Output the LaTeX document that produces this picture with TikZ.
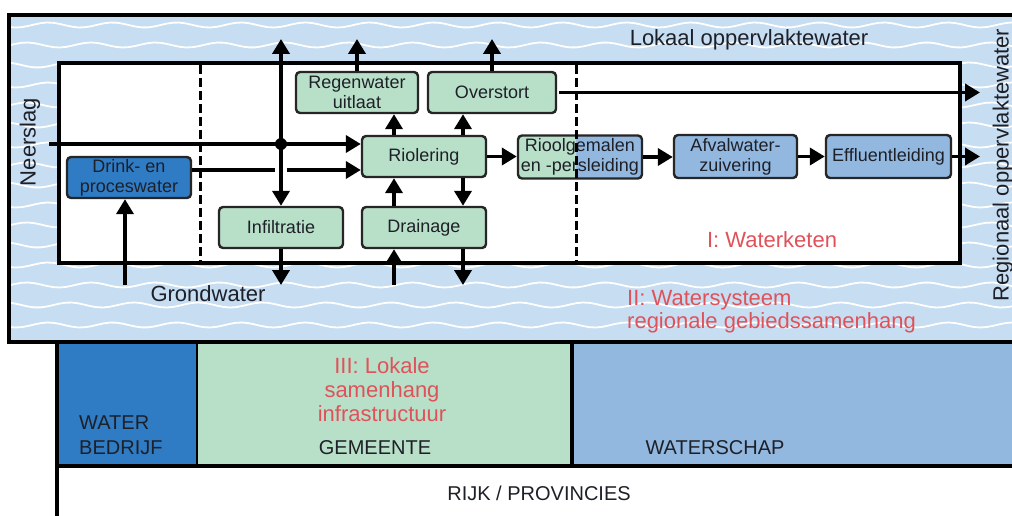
\documentclass[tikz,border=0pt]{standalone}
\usepackage{fontspec}
\setmainfont{Liberation Sans}
\usepackage{xcolor}
\usepackage{tikz}
\usetikzlibrary{arrows.meta}

\definecolor{waterblauw}{RGB}{198,221,242}
\definecolor{groen}{RGB}{184,223,200}
\definecolor{donkerblauw}{RGB}{47,123,196}
\definecolor{middenblauw}{RGB}{147,184,224}
\definecolor{rood}{RGB}{224,82,90}
\definecolor{tekst}{RGB}{30,32,40}

\begin{document}
\begin{tikzpicture}[x=1pt, y=-1pt,
    blok/.style = {draw=black!85, line width=2.4pt, rounded corners=4pt, minimum width=124pt, minimum height=41pt, inner sep=1pt, align=center, text=tekst, font=\fontsize{18}{20}\selectfont},
    pijl/.style = {line width=3.8pt, -{Triangle[length=15pt,width=17pt]}},
    tekstlabel/.style = {text=tekst, font=\fontsize{22}{24}\selectfont, inner sep=0pt},
    roodlabel/.style = {text=rood, font=\fontsize{22}{24}\selectfont, inner sep=0pt},
    bandlabel/.style = {text=tekst, font=\fontsize{20}{25}\selectfont, inner sep=0pt},
    golf/.style = {white, line width=1.8pt}]
            \useasboundingbox (0,0) rectangle (1012,516);
            \def\wl{5.6} \def\amp{2.5}

            \fill[waterblauw] (9,15) rectangle (1020,342);
            \begin{scope}
                \clip (9,15) rectangle (1012,342);
                \foreach \r in {0,...,15}
                    \draw[golf] plot[domain=9:1012, samples=160] (\x, {25 + 20*\r + \amp*sin(\x*\wl + \r*120)});
            \end{scope}
            \draw[line width=3.5pt] (9,15) rectangle (1020,342);
            \draw[fill=white, line width=4pt] (59,63) rectangle (960,263);

            \fill[donkerblauw] (57,344) rectangle (197,466);
            \fill[groen] (197,344) rectangle (572,466);
            \fill[middenblauw] (572,344) rectangle (1012,466);
            \draw[line width=2.5pt] (197,344) -- (197,466);
            \draw[line width=3.5pt] (572,344) -- (572,466);
            \draw[line width=3.5pt] (57,466) -- (1012,466);
            \draw[line width=3.5pt] (57,344) -- (57,516);

            \node[blok, fill=donkerblauw] (drink) at (129,177.5) {Drink- en\\proceswater};
            \node[blok, fill=groen, minimum width=122pt] (regen) at (357,92.5) {Regenwater\\uitlaat};
            \node[blok, fill=groen, minimum width=128pt] (overstort) at (492,92.5) {Overstort};
            \node[blok, fill=groen] (riool) at (424,156.5) {Riolering};
            \node[blok, fill=groen] (infil) at (281,227.5) {Infiltratie};
            \node[blok, fill=groen] (drain) at (424,227.5) {Drainage};
            \node[blok, fill=middenblauw, minimum height=43pt, path picture={\fill[groen] (path picture bounding box.south west) rectangle ([xshift=-4pt]path picture bounding box.north);}] (gemaal) at (580,157) {Rioolgemalen\\en -persleiding};
            \node[blok, fill=middenblauw, minimum height=43pt, minimum width=123pt] (afval) at (735.5,156.5) {Afvalwater-\\zuivering};
            \node[blok, fill=middenblauw, minimum height=43pt, minimum width=125pt] (effluent) at (888.5,156.5) {Effluentleiding};

            \coordinate (boven) at (0,39);
            \coordinate (onder) at (0,285);
            \coordinate (rechts) at (980,0);
            \coordinate (regenval) at (49,144);
            \coordinate (splits) at (infil.north |- regenval);
            \coordinate (d0) at ([yshift=7.5pt]drink.east);
            \coordinate (kruis) at (d0 -| infil.north);
            \coordinate (r1) at ([xshift=-30pt]riool.north);
            \coordinate (r2) at ([xshift=39pt]riool.north);
            \coordinate (g1) at ([xshift=-4pt]drink.south);

            \draw[pijl] (regenval) -- (regenval -| riool.west);
            \draw[pijl] (splits) -- (splits |- boven);
            \draw[pijl] (splits) -- (infil.north);
            \fill (splits) circle (6pt);
            \draw[line width=3.8pt] (d0) -- ([xshift=-6pt]kruis);
            \draw[pijl] ([xshift=6pt]kruis) -- (d0 -| riool.west);

            \draw[pijl] (regen.north) -- (regen.north |- boven);
            \draw[pijl] (overstort.north) -- (overstort.north |- boven);
            \draw[pijl] (r1) -- (r1 |- regen.south);
            \draw[pijl] (r2) -- (r2 |- overstort.south);
            \draw[pijl] (r1 |- drain.north) -- (r1 |- riool.south);
            \draw[pijl] (r2 |- riool.south) -- (r2 |- drain.north);
            \draw[pijl] (r1 |- onder) -- (r1 |- drain.south);
            \draw[pijl] (r2 |- drain.south) -- (r2 |- onder);
            \draw[pijl] (infil.south) -- (infil.south |- onder);
            \draw[pijl] (g1 |- onder) -- (g1);

            \draw[pijl] (riool.east) -- (riool.east -| gemaal.west);
            \draw[pijl] (gemaal.east) -- (gemaal.east -| afval.west);
            \draw[pijl] (afval.east) -- (afval.east -| effluent.west);
            \draw[pijl] (effluent.east) -- (effluent.east -| rechts);
            \draw[pijl] ([xshift=2pt]overstort.east) -- (overstort.east -| rechts);

            \draw[line width=3pt, dash pattern=on 9pt off 4pt] (200,65) -- (200,261);
            \draw[line width=3pt, dash pattern=on 9pt off 4pt] (576,65) -- (576,261);

            \node[tekstlabel] (lokaal) at (749,40) {Lokaal oppervlaktewater};
            \node[tekstlabel, rotate=90] (neerslag) at (30,142) {Neerslag};
            \node[tekstlabel, rotate=90] (regionaal) at (1003,165) {Regionaal oppervlaktewater};
            \node[tekstlabel] (grondwater) at (208,294) {Grondwater};
            \node[roodlabel] (keten) at (772,240) {I: Waterketen};
            \node[roodlabel, anchor=west, align=left, font=\fontsize{22}{23}\selectfont] (systeem) at (627,311.5) {II: Watersysteem\\regionale gebiedssamenhang};
            \node[roodlabel, align=center] (lokale) at (382,390) {III: Lokale\\samenhang\\infrastructuur};

            \node[bandlabel, anchor=west, align=left] (bedrijf) at (79,435.5) {WATER\\BEDRIJF};
            \node[bandlabel] (gemeente) at (375,448) {GEMEENTE};
            \node[bandlabel] (waterschap) at (715,448) {WATERSCHAP};
            \node[bandlabel] (rijk) at (539,493) {RIJK / PROVINCIES};
\end{tikzpicture}
\end{document}
